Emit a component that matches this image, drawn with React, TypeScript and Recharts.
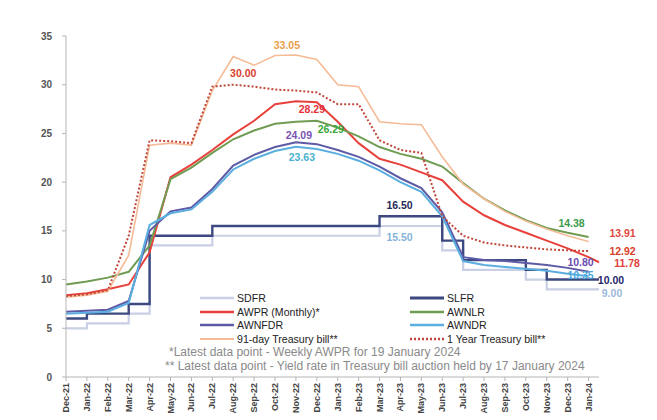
import React from 'react';
import { LineChart, Line, XAxis, YAxis } from 'recharts';

// Month index 0 = Dec-21 ... 25 = Jan-24
const monthLabels = [
  'Dec-21', 'Jan-22', 'Feb-22', 'Mar-22', 'Apr-22', 'May-22', 'Jun-22', 'Jul-22', 'Aug-22',
  'Sep-22', 'Oct-22', 'Nov-22', 'Dec-22', 'Jan-23', 'Feb-23', 'Mar-23', 'Apr-23', 'May-23',
  'Jun-23', 'Jul-23', 'Aug-23', 'Sep-23', 'Oct-23', 'Nov-23', 'Dec-23', 'Jan-24',
];
const monthIdx = monthLabels.map((_, i) => i);

// Policy rates (changes only, drawn as steps)
const policyMonths = [0, 1, 3, 4, 7, 15, 18, 19, 22, 23, 25.5];
const sdfr = [5.0, 5.5, 6.5, 13.5, 14.5, 15.5, 13.0, 11.0, 10.0, 9.0, 9.0];
const slfr = [6.0, 6.5, 7.5, 14.5, 15.5, 16.5, 14.0, 12.0, 11.0, 10.0, 10.0];

// AWPR: monthly points plus the latest weekly reading
const awprMonths = [...monthIdx, 25.5];
const awpr = [
  8.4, 8.6, 9.0, 9.5, 12.8, 20.5, 21.8, 23.3, 24.9, 26.3, 28.0, 28.29, 28.2,
  26.2, 24.0, 22.4, 21.8, 21.0, 20.2, 18.0, 16.6, 15.6, 14.8, 14.0, 13.2, 12.3, 11.78,
];

const awnlr = [
  9.5, 9.8, 10.2, 10.8, 13.5, 20.3, 21.5, 23.0, 24.4, 25.3, 26.0, 26.2, 26.29,
  25.6, 24.7, 23.6, 22.9, 22.4, 21.6, 19.9, 18.3, 17.1, 16.1, 15.3, 14.8, 14.38,
];
const awnfdr = [
  6.7, 6.8, 6.9, 7.8, 15.0, 17.0, 17.4, 19.3, 21.7, 22.8, 23.6, 24.09, 23.9,
  23.3, 22.6, 21.6, 20.4, 19.4, 16.9, 12.3, 12.0, 11.9, 11.7, 11.5, 11.2, 10.8,
];
const awndr = [
  6.5, 6.6, 6.7, 7.6, 15.6, 16.8, 17.2, 19.0, 21.3, 22.4, 23.2, 23.63, 23.4,
  22.9, 22.2, 21.2, 20.0, 19.0, 16.5, 11.9, 11.5, 11.3, 11.1, 10.9, 10.6, 10.35,
];
const tbill91 = [
  8.2, 8.4, 8.8, 12.5, 23.8, 24.0, 23.8, 29.4, 32.9, 32.0, 33.0, 33.05, 32.6,
  30.0, 29.8, 26.2, 26.0, 25.9, 22.6, 19.8, 18.3, 17.0, 16.0, 15.2, 14.5, 13.91,
];
const tbill1y = [
  8.3, 8.5, 8.9, 14.5, 24.3, 24.2, 24.0, 29.8, 30.0, 29.8, 29.5, 29.4, 29.2,
  28.0, 28.0, 24.3, 23.3, 23.0, 16.5, 14.5, 13.8, 13.5, 13.3, 13.1, 13.0, 12.92,
];

const yTicks = [0, 5, 10, 15, 20, 25, 30, 35];

const FONT = '"Liberation Sans", Arial, sans-serif';

const toPoints = (xs: number[], ys: number[]) => xs.map((m, i) => ({ m, v: ys[i] }));

type Tag = { index: number; color: string; dx: number; dy: number; anchor?: 'start' | 'middle' | 'end' };

const makeLabel = (tags: Tag[]) => (props: any) => {
  const tag = tags.find((t) => t.index === props.index);
  if (!tag || props.x == null || props.y == null) return null;
  return (
    <text
      key={`lbl-${props.index}`}
      x={props.x + tag.dx}
      y={props.y + tag.dy}
      fill={tag.color}
      fontSize={10.5}
      fontWeight="bold"
      fontFamily={FONT}
      textAnchor={tag.anchor || 'middle'}
      dominantBaseline="central"
    >
      {Number(props.value).toFixed(2)}
    </text>
  );
};

type Series = {
  name: string;
  data: { m: number; v: number }[];
  color: string;
  width: number;
  dash?: string;
  step?: boolean;
  tags: Tag[];
};

const series: Series[] = [
  {
    name: 'SDFR', data: toPoints(policyMonths, sdfr), color: '#c9d0e6', width: 2.2, step: true,
    tags: [
      { index: 5, color: '#86b3d9', dx: 20, dy: 11 },
      { index: 10, color: '#9cb8dc', dx: 13, dy: 4 },
    ],
  },
  {
    name: 'SLFR', data: toPoints(policyMonths, slfr), color: '#3c4980', width: 2.4, step: true,
    tags: [
      { index: 5, color: '#1f2a55', dx: 20, dy: -11 },
      { index: 10, color: '#1f2a6a', dx: 12, dy: 0 },
    ],
  },
  {
    name: 'AWPR (Monthly)*', data: toPoints(awprMonths, awpr), color: '#e8413c', width: 2,
    tags: [
      { index: 11, color: '#e5303a', dx: 16, dy: 8 },
      { index: 26, color: '#e0403a', dx: 28, dy: 1 },
    ],
  },
  {
    name: 'AWNLR', data: toPoints(monthIdx, awnlr), color: '#6f9c52', width: 2,
    tags: [
      { index: 12, color: '#3aa83a', dx: 14, dy: 8 },
      { index: 25, color: '#3a9a4a', dx: -17, dy: -14 },
    ],
  },
  {
    name: 'AWNFDR', data: toPoints(monthIdx, awnfdr), color: '#5d5aa6', width: 2,
    tags: [
      { index: 11, color: '#7b52b0', dx: 3, dy: -7 },
      { index: 25, color: '#6a4cb0', dx: -8, dy: -10 },
    ],
  },
  {
    name: 'AWNDR', data: toPoints(monthIdx, awndr), color: '#5aaee0', width: 2,
    tags: [
      { index: 11, color: '#4db0d0', dx: 6, dy: 10 },
      { index: 25, color: '#4aa8dc', dx: -8, dy: -1 },
    ],
  },
  {
    name: '91-day Treasury bill**', data: toPoints(monthIdx, tbill91), color: '#f4bb96', width: 1.6,
    tags: [
      { index: 11, color: '#e8a04c', dx: -9, dy: -10 },
      { index: 25, color: '#e04a40', dx: 34, dy: -8 },
    ],
  },
  {
    name: '1 Year Treasury bill**', data: toPoints(monthIdx, tbill1y), color: '#c0473a', width: 2, dash: '2 2',
    tags: [
      { index: 8, color: '#d9412c', dx: 10, dy: -12 },
      { index: 25, color: '#d8402a', dx: 34, dy: 0 },
    ],
  },
];

const MonthTick = (props: any) => {
  const { x, y, payload } = props;
  return (
    <text
      x={x}
      y={y}
      transform={`rotate(-90, ${x}, ${y})`}
      textAnchor="end"
      dominantBaseline="central"
      fontSize={9}
      fontWeight="bold"
      fill="#444"
      fontFamily={FONT}
    >
      {monthLabels[payload.value]}
    </text>
  );
};

const Swatch = ({ s }: { s: Series }) => (
  <svg width={34} height={6} style={{ display: 'block' }}>
    <line x1={0} y1={3} x2={34} y2={3} stroke={s.color} strokeWidth={s.width + 0.4} strokeDasharray={s.dash} />
  </svg>
);

const legendRows = [0, 1, 2, 3];

export default function App() {
  return (
    <div style={{ position: 'absolute', left: 0, top: 0, width: 657, height: 420, background: '#fff' }}>
      <LineChart width={657} height={420} margin={{ top: 36, right: 58, bottom: 0, left: 0 }}>
        <XAxis
          dataKey="m"
          type="number"
          domain={[0, 25.5]}
          ticks={monthIdx}
          interval={0}
          height={43}
          tick={<MonthTick />}
          tickSize={4}
          tickMargin={2}
          axisLine={{ stroke: '#b5b5b5' }}
          tickLine={{ stroke: '#b5b5b5' }}
          allowDuplicatedCategory={false}
        />
        <YAxis
          type="number"
          domain={[0, 35]}
          ticks={yTicks}
          width={66}
          tickSize={4}
          tickMargin={10}
          axisLine={{ stroke: '#b5b5b5' }}
          tickLine={{ stroke: '#b5b5b5' }}
          tick={{ fontSize: 10, fontWeight: 'bold', fill: '#555', fontFamily: FONT }}
        />
        {series.map((s) => (
          <Line
            key={s.name}
            data={s.data}
            dataKey="v"
            name={s.name}
            type={s.step ? 'stepAfter' : 'linear'}
            stroke={s.color}
            strokeWidth={s.width}
            strokeDasharray={s.dash}
            dot={false}
            activeDot={false}
            isAnimationActive={false}
            label={makeLabel(s.tags)}
          />
        ))}
      </LineChart>

      <div
        style={{
          position: 'absolute',
          left: 200,
          top: 291,
          width: 400,
          fontFamily: FONT,
          fontSize: 10.6,
          color: '#222',
        }}
      >
        {legendRows.map((r) => (
          <div key={r} style={{ display: 'flex', height: 13.7, alignItems: 'center' }}>
            {[series[r * 2], series[r * 2 + 1]].map((s, c) => (
              <div key={s.name} style={{ display: 'flex', alignItems: 'center', width: c === 0 ? 210 : 190 }}>
                <Swatch s={s} />
                <span style={{ marginLeft: 3, whiteSpace: 'nowrap' }}>{s.name}</span>
              </div>
            ))}
          </div>
        ))}
      </div>

      <div
        style={{
          position: 'absolute',
          left: 165,
          top: 346,
          fontFamily: FONT,
          fontSize: 12,
          color: '#8a8a8a',
          lineHeight: '13.5px',
          whiteSpace: 'nowrap',
        }}
      >
        <div style={{ paddingLeft: 4 }}>*Latest data point - Weekly AWPR for 19 January 2024</div>
        <div>** Latest data point - Yield rate in Treasury bill auction held by 17 January 2024</div>
      </div>
    </div>
  );
}
